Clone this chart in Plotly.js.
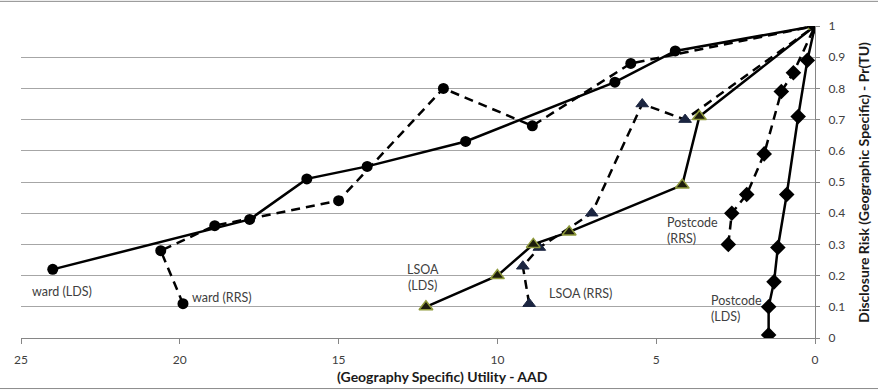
<!DOCTYPE html>
<html>
<head>
<meta charset="utf-8">
<script src="https://cdn.plot.ly/plotly-3.0.1.min.js"></script>
<style>html,body{margin:0;padding:0;background:#fff;}#chart{width:878px;height:392px;}</style>
</head>
<body>
<div id="chart"></div>
<script>
// Utility (AAD) and disclosure risk values per series
const wardLdsX = [24.0, 17.8, 16.0, 14.1, 11.0, 6.3, 4.4, 0];
const wardLdsY = [0.22, 0.38, 0.51, 0.55, 0.63, 0.82, 0.92, 1.0];
const wardRrsX = [19.9, 20.6, 18.9, 15.0, 11.7, 8.9, 5.8, 0];
const wardRrsY = [0.11, 0.28, 0.36, 0.44, 0.80, 0.68, 0.88, 1.0];
const lsoaLdsX = [12.25, 10.0, 8.87, 7.74, 4.18, 3.64, 0];
const lsoaLdsY = [0.10, 0.20, 0.30, 0.34, 0.49, 0.71, 1.0];
const lsoaRrsX = [9.0, 9.2, 8.68, 7.03, 5.44, 4.09, 0];
const lsoaRrsY = [0.11, 0.23, 0.29, 0.40, 0.75, 0.70, 1.0];
const pcLdsX = [1.46, 1.46, 1.29, 1.17, 0.89, 0.53, 0.24, 0];
const pcLdsY = [0.01, 0.10, 0.18, 0.29, 0.46, 0.71, 0.89, 1.0];
const pcRrsX = [2.73, 2.62, 2.15, 1.60, 1.06, 0.68, 0];
const pcRrsY = [0.30, 0.40, 0.46, 0.59, 0.79, 0.85, 1.0];
const xTicks = [25, 20, 15, 10, 5, 0];
const yTicks = [0, 0.1, 0.2, 0.3, 0.4, 0.5, 0.6, 0.7, 0.8, 0.9, 1];
const seriesLabels = ["ward (LDS)", "ward (RRS)", "LSOA<br>(LDS)", "LSOA (RRS)", "Postcode<br>(RRS)", "Postcode<br>(LDS)"];

const solid = {color: '#000', width: 2.5};
const dashed = {color: '#000', width: 2.5, dash: '9px,6px'};
const circle = {symbol: 'circle', size: 11, color: '#000'};
const triL = {symbol: 'triangle-up', size: 12, color: '#1c1c0c', line: {color: '#8f9a3c', width: 1.5}};
const triR = {symbol: 'triangle-up', size: 11, color: '#1b2540', line: {color: '#1b2540', width: 1}};
const dia = {symbol: 'diamond', size: 12, color: '#000'};

const traces = [
  {x: wardRrsX, y: wardRrsY, mode: 'lines+markers', line: dashed, marker: circle},
  {x: wardLdsX, y: wardLdsY, mode: 'lines+markers', line: solid, marker: circle},
  {x: lsoaRrsX, y: lsoaRrsY, mode: 'lines+markers', line: dashed, marker: triR},
  {x: lsoaLdsX, y: lsoaLdsY, mode: 'lines+markers', line: solid, marker: triL},
  {x: pcRrsX, y: pcRrsY, mode: 'lines+markers', line: dashed, marker: dia},
  {x: pcLdsX, y: pcLdsY, mode: 'lines+markers', line: solid, marker: dia}
].map(t => Object.assign({type: 'scatter', showlegend: false, hoverinfo: 'skip'}, t));

const FONT = 'Lato, "Liberation Sans", sans-serif';
const lblFont = {family: FONT, size: 12.5, color: '#404040'};
function lbl(text, x, y, xanchor, align) {
  return {text: text, x: x, y: y, xref: 'x', yref: 'y', showarrow: false,
          xanchor: xanchor, yanchor: 'middle', align: align, font: lblFont};
}

const layout = {
  width: 878, height: 392,
  margin: {l: 21, r: 63, t: 26, b: 54, pad: 0},
  paper_bgcolor: '#fff', plot_bgcolor: '#fff',
  font: {family: FONT, size: 12, color: '#404040'},
  xaxis: {
    range: [25, 0], autorange: false,
    tickvals: xTicks, ticktext: xTicks.map(String),
    ticks: 'outside', ticklen: 5, tickcolor: '#868686', tickwidth: 1,
    ticklabelstandoff: 6,
    showline: true, linecolor: '#868686', linewidth: 1,
    showgrid: false, zeroline: false,
    tickfont: {family: FONT, size: 12, color: '#404040'}
  },
  yaxis: {
    range: [0, 1], autorange: false, side: 'right',
    tickvals: yTicks, ticktext: yTicks.map(String),
    ticks: 'outside', ticklen: 4, tickcolor: '#868686', tickwidth: 1,
    ticklabelstandoff: 6,
    showline: true, linecolor: '#868686', linewidth: 1,
    showgrid: true, gridcolor: '#a6a6a6', gridwidth: 1, zeroline: false,
    tickfont: {family: FONT, size: 12, color: '#404040'}
  },
  annotations: [
    lbl(seriesLabels[0], 24.72, 0.148, 'left', 'left'),
    lbl(seriesLabels[1], 19.68, 0.129, 'left', 'left'),
    lbl(seriesLabels[2], 12.34, 0.193, 'center', 'center'),
    lbl(seriesLabels[3], 8.44, 0.142, 'left', 'left'),
    lbl(seriesLabels[4], 4.72, 0.343, 'left', 'left'),
    lbl(seriesLabels[5], 3.34, 0.094, 'left', 'left'),
    {text: '<b>(Geography Specific) Utility - AAD</b>', xref: 'paper', yref: 'paper',
     x: 0.531, y: -0.124, showarrow: false, xanchor: 'center', yanchor: 'middle',
     font: {family: FONT, size: 14, color: '#1a1a1a'}},
    {text: '<b>Disclosure Risk (Geographic Specific) - Pr(TU)</b>', xref: 'paper', yref: 'paper',
     x: 1.06, y: 0.5, textangle: -90, showarrow: false, xanchor: 'center', yanchor: 'middle',
     font: {family: FONT, size: 14, color: '#1a1a1a'}}
  ],
  shapes: [
    {type: 'line', xref: 'paper', yref: 'paper', x0: -0.03, x1: 1.08, y0: 1.079, y1: 1.079,
     line: {color: '#8c8c8c', width: 1}},
    {type: 'line', xref: 'paper', yref: 'paper', x0: -0.03, x1: 1.08, y0: -0.162, y1: -0.162,
     line: {color: '#8c8c8c', width: 1}}
  ]
};

Plotly.newPlot('chart', traces, layout, {staticPlot: true, displayModeBar: false});
</script>
</body>
</html>
